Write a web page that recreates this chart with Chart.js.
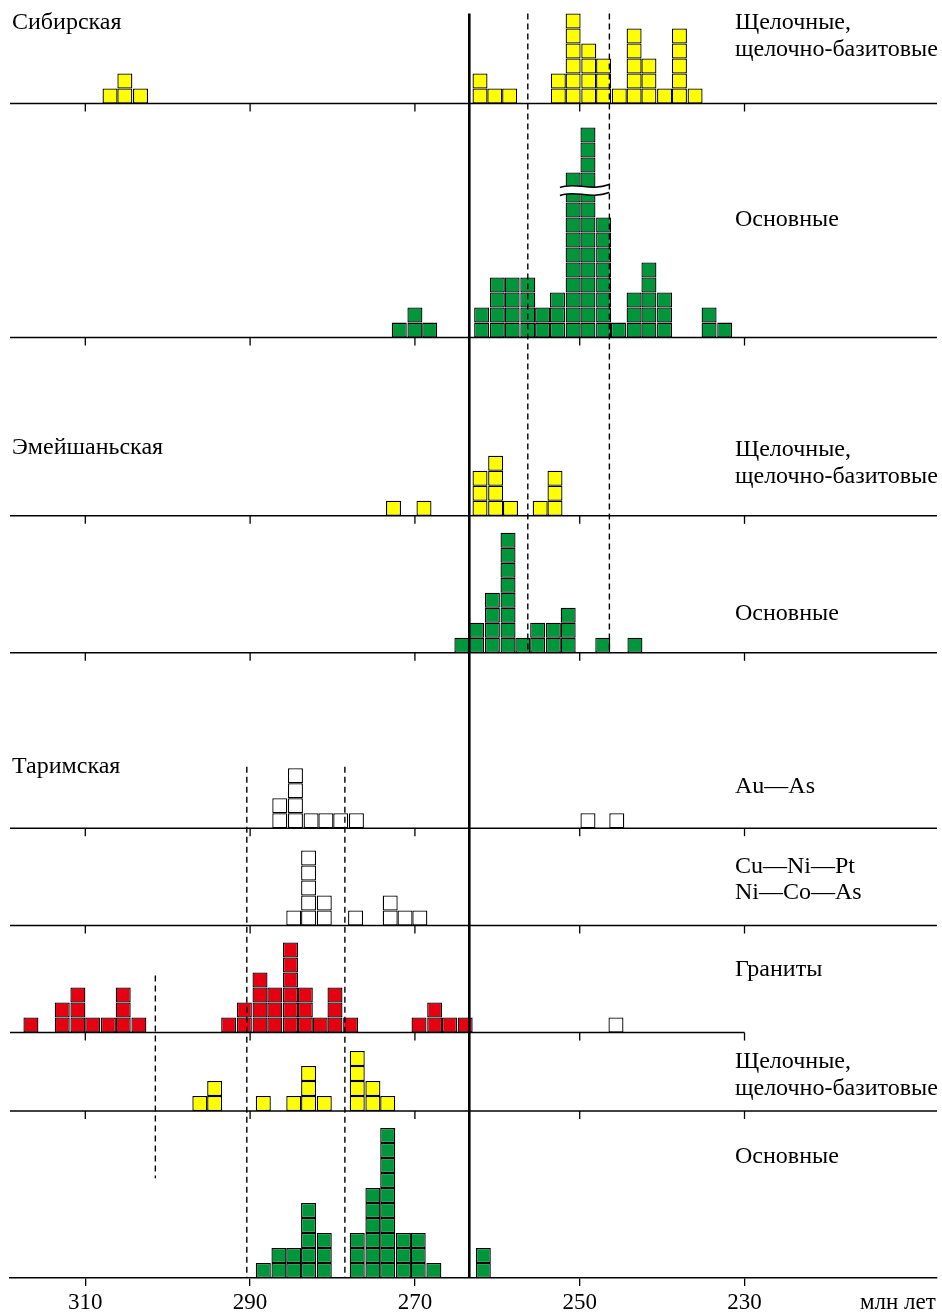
<!DOCTYPE html>
<html>
<head>
<meta charset="utf-8">
<script src="https://cdn.jsdelivr.net/npm/chart.js@4.4.1/dist/chart.umd.min.js"></script>
<style>
  body { margin: 0; background: #fff; }
  #wrap { width: 942px; height: 1313px; }
</style>
</head>
<body>
<div id="wrap"><canvas id="chart"></canvas></div>
<script>
// ages are column centres, млн лет; counts are number of cells in a column
const xTicks = [310, 290, 270, 250, 230];

// Сибирская
const sibAlkAges = [307.0, 305.2, 303.3, 262.1, 260.3, 258.5, 252.6, 250.8, 248.9, 247.1, 245.2, 243.4, 241.6, 239.7, 237.9, 236.0];
const sibAlkCounts = [1, 2, 1, 2, 1, 1, 2, 6, 4, 3, 1, 5, 3, 1, 5, 1];
const sibBasAges = [271.9, 270.0, 268.2, 261.9, 260.0, 258.2, 256.3, 254.5, 252.7, 250.8, 249.0, 247.1, 245.3, 243.4, 241.6, 239.7, 234.3, 232.4];
const sibBasCounts = [1, 2, 1, 2, 4, 4, 4, 2, 3, 11, 14, 8, 1, 3, 5, 3, 2, 1];
const sibBasBreak = { from: 252.4, to: 246.4, at: 9.8 };

// Эмейшаньская
const emeAlkAges = [272.6, 268.9, 262.1, 260.2, 258.4, 254.8, 253.0];
const emeAlkCounts = [1, 1, 3, 4, 1, 1, 3];
const emeBasAges = [264.3, 262.5, 260.6, 258.7, 256.9, 255.1, 253.2, 251.4, 247.2, 243.3];
const emeBasCounts = [1, 2, 4, 8, 1, 2, 2, 3, 1, 1];

// Таримская
const tarAuAges = [286.4, 284.5, 282.6, 280.8, 279.0, 277.1, 249.0, 245.5];
const tarAuCounts = [2, 4, 1, 1, 1, 1, 1, 1];
const tarCuAges = [284.7, 282.9, 281.0, 277.2, 273.0, 271.2, 269.4];
const tarCuCounts = [1, 5, 2, 1, 2, 1, 1];
const tarGrAges = [316.6, 312.8, 310.9, 309.1, 307.2, 305.4, 303.5, 292.6, 290.7, 288.8, 287.0, 285.1, 283.3, 281.5, 279.7, 277.8, 269.5, 267.6, 265.8, 263.9];
const tarGrCounts = [1, 2, 3, 1, 1, 3, 1, 1, 2, 4, 3, 6, 3, 1, 3, 1, 1, 2, 1, 1];
const tarGrOpenAges = [245.6];
const tarGrOpenCounts = [1];
const tarAlkAges = [296.1, 294.3, 288.4, 284.7, 282.9, 281.0, 277.0, 275.1, 273.3];
const tarAlkCounts = [1, 2, 1, 1, 3, 1, 4, 2, 1];
const tarBasAges = [288.4, 286.5, 284.7, 282.9, 281.0, 277.0, 275.1, 273.3, 271.4, 269.6, 267.7, 261.7];
const tarBasCounts = [1, 2, 2, 5, 3, 3, 6, 10, 3, 3, 1, 2];

// reference lines, млн лет
const solidAge = 263.4;
const upperDashAges = [256.3, 246.4];
const lowerDashAges = [290.4, 278.5];
const graniteDashAge = 301.5;

const YELLOW = '#ffff00', GREEN = '#00963c', RED = '#e60012', OPEN = '#ffffff';
const INK = '#000000';
const FONT = '24px "Liberation Serif", "Times New Roman", serif';

// panels top to bottom, rows = height in cells
const panels = [
  { id: 'p1', rows: 6.9 },
  { id: 'p2', rows: 15.6 },
  { id: 'p3', rows: 11.88 },
  { id: 'p4', rows: 9.13 },
  { id: 'p5', rows: 11.69 },
  { id: 'p6', rows: 6.49 },
  { id: 'p7', rows: 7.13, baselineTo: 230 },
  { id: 'p8', rows: 5.23 },
  { id: 'p9', rows: 11.13 }
];

const labels = [
  { text: 'Сибирская', x: 12, y: 29 },
  { text: 'Щелочные,', x: 735, y: 29 },
  { text: 'щелочно-базитовые', x: 735, y: 56 },
  { text: 'Основные', x: 735, y: 226 },
  { text: 'Эмейшаньская', x: 12, y: 454 },
  { text: 'Щелочные,', x: 735, y: 456 },
  { text: 'щелочно-базитовые', x: 735, y: 483 },
  { text: 'Основные', x: 735, y: 620 },
  { text: 'Таримская', x: 12, y: 773 },
  { text: 'Au—As', x: 735, y: 793 },
  { text: 'Cu—Ni—Pt', x: 735, y: 873 },
  { text: 'Ni—Co—As', x: 735, y: 899 },
  { text: 'Граниты', x: 735, y: 976 },
  { text: 'Щелочные,', x: 735, y: 1068 },
  { text: 'щелочно-базитовые', x: 735, y: 1095 },
  { text: 'Основные', x: 735, y: 1163 }
];

function cells(ages, counts, axis, color) {
  const data = [];
  ages.forEach((a, i) => {
    for (let j = 0; j < counts[i]; j++) data.push({ x: a, y: [j, j + 1] });
  });
  return {
    data: data,
    yAxisID: axis,
    backgroundColor: color,
    borderColor: INK,
    borderWidth: 1.3,
    borderSkipped: false,
    barThickness: 15,
    grouped: false,
    inflateAmount: 0
  };
}

const datasets = [
  cells(sibAlkAges, sibAlkCounts, 'p1', YELLOW),
  cells(sibBasAges, sibBasCounts, 'p2', GREEN),
  cells(emeAlkAges, emeAlkCounts, 'p3', YELLOW),
  cells(emeBasAges, emeBasCounts, 'p4', GREEN),
  cells(tarAuAges, tarAuCounts, 'p5', OPEN),
  cells(tarCuAges, tarCuCounts, 'p6', OPEN),
  cells(tarGrAges, tarGrCounts, 'p7', RED),
  cells(tarGrOpenAges, tarGrOpenCounts, 'p7', OPEN),
  cells(tarAlkAges, tarAlkCounts, 'p8', YELLOW),
  cells(tarBasAges, tarBasCounts, 'p9', GREEN)
];

const scales = {
  x: {
    type: 'linear',
    reverse: true,
    min: 206.64,
    max: 319.14,
    offset: false,
    afterBuildTicks: s => { s.ticks = xTicks.map(v => ({ value: v })); },
    afterFit: s => { s.height = 35; },
    grid: { drawOnChartArea: false, offset: false, tickLength: 8, color: INK, lineWidth: 1.3 },
    border: { display: true, color: INK, width: 1.5 },
    ticks: { color: '#000', font: { family: '"Liberation Serif", serif', size: 23 }, padding: 3, maxRotation: 0, autoSkip: false }
  }
};
panels.forEach((p, i) => {
  scales[p.id] = {
    type: 'linear',
    position: 'left',
    stack: 'panels',
    stackWeight: p.rows,
    weight: panels.length - i,
    min: 0,
    max: p.rows,
    display: false
  };
});

function vline(ctx, x, y0, y1, width, dash) {
  ctx.beginPath();
  ctx.lineWidth = width;
  ctx.setLineDash(dash);
  ctx.moveTo(x, y0);
  ctx.lineTo(x, y1);
  ctx.stroke();
}

const marks = {
  id: 'marks',
  afterDatasetsDraw(chart) {
    const { ctx, chartArea, scales: s } = chart;
    const x = s.x;
    ctx.save();
    ctx.strokeStyle = INK;

    // panel baselines with ticks
    panels.slice(0, -1).forEach(p => {
      const y = s[p.id].getPixelForValue(0);
      const right = p.baselineTo ? x.getPixelForValue(p.baselineTo) : chartArea.right;
      ctx.setLineDash([]);
      ctx.lineWidth = 1.5;
      ctx.beginPath();
      ctx.moveTo(chartArea.left, y);
      ctx.lineTo(right, y);
      ctx.stroke();
      ctx.lineWidth = 1.3;
      xTicks.forEach(t => {
        const tx = x.getPixelForValue(t);
        if (tx > right + 1) return;
        ctx.beginPath();
        ctx.moveTo(tx, y);
        ctx.lineTo(tx, y + 8);
        ctx.stroke();
      });
    });

    // break on the Siberian basic columns
    const bx0 = x.getPixelForValue(sibBasBreak.from);
    const bx1 = x.getPixelForValue(sibBasBreak.to);
    const by = s.p2.getPixelForValue(sibBasBreak.at);
    const w = bx1 - bx0;
    const wave = dy => {
      ctx.moveTo(bx0, by + dy + 1);
      ctx.bezierCurveTo(bx0 + w * 0.3, by + dy - 5, bx0 + w * 0.6, by + dy + 5, bx1, by + dy - 2);
    };
    ctx.setLineDash([]);
    ctx.beginPath();
    ctx.moveTo(bx0, by - 4 + 1);
    ctx.bezierCurveTo(bx0 + w * 0.3, by - 9, bx0 + w * 0.6, by + 1, bx1, by - 6);
    ctx.lineTo(bx1, by + 2);
    ctx.bezierCurveTo(bx0 + w * 0.6, by + 9, bx0 + w * 0.3, by - 1, bx0, by + 5);
    ctx.closePath();
    ctx.fillStyle = '#fff';
    ctx.fill();
    ctx.lineWidth = 1.5;
    ctx.beginPath(); wave(-4); ctx.stroke();
    ctx.beginPath(); wave(4); ctx.stroke();

    // reference lines
    const sx = x.getPixelForValue(solidAge);
    vline(ctx, sx, s.p1.getPixelForValue(6), s.p9.getPixelForValue(0), 2.6, []);
    upperDashAges.forEach(a => {
      vline(ctx, x.getPixelForValue(a), s.p1.getPixelForValue(6), s.p4.getPixelForValue(0), 1.4, [6, 4]);
    });
    lowerDashAges.forEach(a => {
      vline(ctx, x.getPixelForValue(a), s.p5.getPixelForValue(4.1), s.p9.getPixelForValue(0), 1.4, [6, 4]);
    });
    vline(ctx, x.getPixelForValue(graniteDashAge), s.p7.getPixelForValue(3.8), s.p9.getPixelForValue(6.65), 1.4, [6, 4]);
    ctx.restore();
  },
  afterDraw(chart) {
    const ctx = chart.ctx;
    ctx.save();
    ctx.fillStyle = '#000';
    ctx.font = FONT;
    ctx.textBaseline = 'alphabetic';
    ctx.textAlign = 'left';
    labels.forEach(l => ctx.fillText(l.text, l.x, l.y));
    ctx.font = '23px "Liberation Serif", serif';
    ctx.fillText('млн лет', 860, 1309);
    ctx.restore();
  }
};

new Chart(document.getElementById('chart'), {
  type: 'bar',
  data: { datasets: datasets },
  options: {
    responsive: true,
    maintainAspectRatio: false,
    animation: false,
    devicePixelRatio: 1,
    layout: { padding: { left: 10, right: 5, top: 0, bottom: 0 } },
    plugins: { legend: { display: false }, tooltip: { enabled: false } },
    scales: scales
  },
  plugins: [marks]
});
</script>
</body>
</html>
